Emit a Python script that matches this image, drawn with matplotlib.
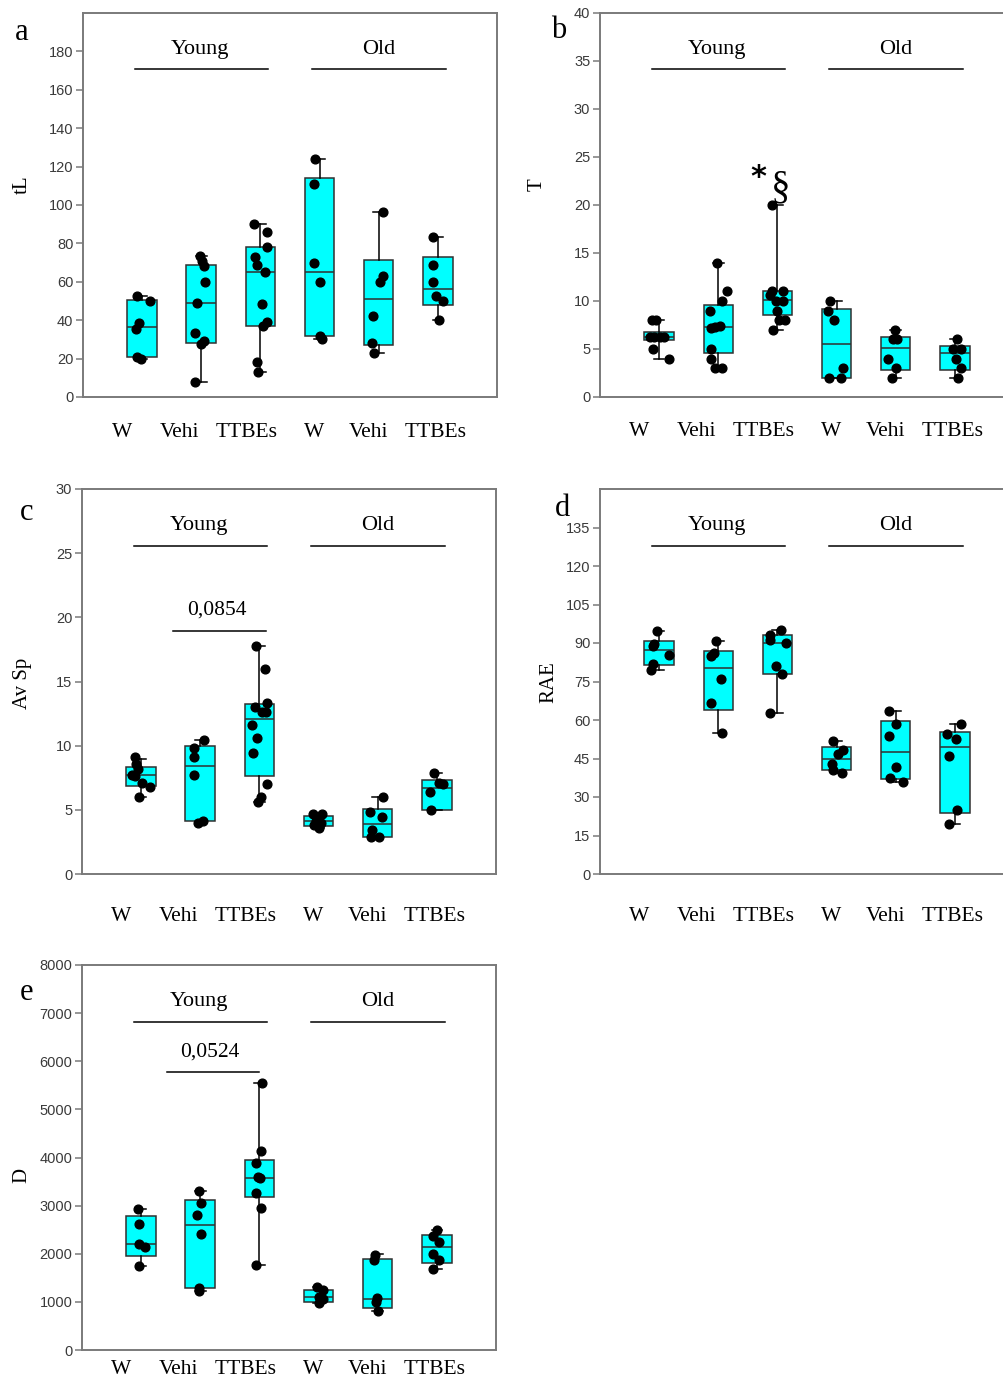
import numpy as np
import matplotlib
matplotlib.use("Agg")
import matplotlib.pyplot as plt

groups = ["W", "Vehi", "TTBEs", "W", "Vehi", "TTBEs"]
label_shift = [-0.34, -0.36, -0.24, -0.09, -0.18, -0.03]

# panel a: tL
a_q1 = [20.8, 28.3, 36.9, 31.7, 26.9, 47.7]
a_med = [36.4, 49.0, 65.0, 65.0, 51.2, 56.0]
a_q3 = [50.5, 69.0, 78.2, 114.1, 71.3, 72.8]
a_lo = [20.0, 8.0, 13.0, 30.0, 23.0, 40.0]
a_hi = [52.5, 73.3, 90.2, 124.0, 96.2, 83.2]
a_pts = [[52.5, 50, 38.3, 35.2, 21, 20],
         [73.3, 70.7, 68.1, 60, 49, 33.1, 29.1, 27.4, 8],
         [90.2, 86, 78.2, 73, 69, 65, 48.2, 39, 37, 18.2, 13],
         [124, 111, 69.9, 60, 32, 30],
         [96.2, 63, 60, 42, 28.3, 23],
         [83.2, 69, 60, 52.5, 50, 40]]
a_jit = [[-0.08, 0.14, -0.06, -0.11, -0.08, -0.02],
         [-0.03, 0.02, 0.04, 0.07, -0.08, -0.1, 0.05, 0.0, -0.1],
         [-0.11, 0.11, 0.11, -0.09, -0.05, 0.08, 0.02, 0.11, 0.05, -0.06, -0.04],
         [-0.07, -0.09, -0.09, 0.01, 0.01, 0.04],
         [0.08, 0.08, 0.02, -0.09, -0.12, -0.08],
         [-0.09, -0.09, -0.09, -0.03, 0.08, 0.02]]

# panel b: T
b_q1 = [5.93, 4.54, 8.53, 2.0, 2.8, 2.8]
b_med = [6.28, 7.32, 10.06, 5.55, 5.06, 4.54]
b_q3 = [6.8, 9.54, 11.03, 9.2, 6.28, 5.3]
b_lo = [4.0, 3.0, 7.0, 2.0, 2.0, 2.0]
b_hi = [8.0, 14.0, 20.0, 10.0, 7.0, 6.0]
b_pts = [[8, 8, 6.3, 6.3, 6.3, 6.3, 5, 4],
         [14, 11, 10, 9, 7.2, 7.3, 7.4, 5, 4, 3, 3],
         [20, 11, 11, 10.6, 10, 10, 9, 8, 8, 7],
         [10, 9, 8, 3, 2, 2],
         [7, 6, 6, 4, 3, 2],
         [6, 5, 5, 4, 3, 2]]
b_jit = [[-0.12, -0.06, -0.16, -0.08, 0.01, 0.08, -0.1, 0.16],
         [-0.03, 0.14, 0.06, -0.14, -0.13, -0.06, 0.03, -0.13, -0.13, -0.06, 0.06],
         [-0.1, -0.1, 0.1, -0.12, -0.02, 0.1, 0.0, 0.03, 0.13, -0.08],
         [-0.11, -0.14, -0.04, 0.11, -0.12, 0.08],
         [-0.02, -0.04, 0.02, -0.13, 0.01, -0.07],
         [0.04, -0.03, 0.1, 0.02, 0.11, 0.06]]

# panel c: Av Sp
c_q1 = [6.88, 4.13, 7.64, 3.77, 2.91, 4.99]
c_med = [7.71, 8.42, 12.08, 4.13, 3.9, 6.68]
c_q3 = [8.36, 9.97, 13.22, 4.55, 5.06, 7.32]
c_lo = [5.97, 3.95, 5.64, 3.56, 2.9, 5.0]
c_hi = [9.0, 10.44, 17.8, 4.73, 5.97, 7.84]
c_pts = [[9.1, 8.6, 8.2, 7.7, 7.6, 7.06, 6.8, 6.0],
         [10.44, 9.8, 9.1, 7.7, 4.0, 4.15],
         [17.8, 16, 13.3, 13, 12.6, 12.6, 11.6, 10.6, 9.4, 7.0, 6.0, 5.64],
         [4.7, 4.65, 4.13, 4.0, 3.82, 3.56],
         [6.0, 4.8, 4.47, 3.43, 2.9, 2.9],
         [7.84, 7.1, 7.0, 6.42, 4.99]]
c_jit = [[-0.1, -0.09, -0.06, -0.15, -0.1, 0.02, 0.15, -0.03],
         [0.07, -0.11, -0.1, -0.11, -0.04, 0.05],
         [-0.06, 0.09, 0.13, -0.07, 0.05, 0.11, -0.12, -0.04, -0.11, 0.13, 0.02, -0.03],
         [-0.09, 0.06, -0.04, 0.04, -0.07, 0.01],
         [0.09, -0.13, 0.08, -0.09, -0.12, 0.02],
         [-0.04, 0.03, 0.1, -0.11, -0.1]]

# panel d: RAE
d_q1 = [81.3, 64.0, 78.0, 40.6, 37.1, 23.8]
d_med = [87.1, 80.1, 90.0, 44.9, 47.5, 49.4]
d_q3 = [90.8, 87.0, 93.0, 49.4, 59.8, 55.5]
d_lo = [79.6, 54.9, 62.8, 39.3, 35.8, 19.5]
d_hi = [94.8, 90.8, 95.0, 52.0, 63.7, 58.3]
d_pts = [[94.8, 89.5, 88.8, 85.2, 82, 79.6],
         [90.8, 86, 85, 75.8, 66.7, 54.9],
         [95, 93.2, 91, 90, 80.9, 77.8, 62.8],
         [52, 48.4, 46.8, 42.9, 40.7, 39.3],
         [63.7, 58.5, 53.6, 41.6, 37.5, 35.8],
         [58.3, 54.6, 52.7, 45.9, 25, 19.5]]
d_jit = [[-0.04, -0.08, -0.11, 0.16, -0.1, -0.14],
         [-0.04, -0.08, -0.13, 0.04, -0.13, 0.06],
         [0.06, -0.12, -0.12, 0.15, -0.02, 0.07, -0.12],
         [-0.06, 0.11, 0.03, -0.08, -0.06, 0.1],
         [-0.11, 0.0, -0.11, 0.01, -0.09, 0.13],
         [0.1, -0.14, 0.02, -0.1, 0.04, -0.1]]

# panel e: D
e_q1 = [1943, 1284, 3178, 1006, 881, 1818]
e_med = [2200, 2602, 3567, 1110, 1062, 2130]
e_q3 = [2776, 3123, 3955, 1249, 1894, 2394]
e_lo = [1749, 1235, 1756, 985, 812, 1686]
e_hi = [2928, 3296, 5538, 1305, 1998, 2498]
e_pts = [[2928, 2623, 2207, 2130, 1749],
         [3296, 3053, 2810, 2408, 1284, 1235],
         [5538, 4130, 3886, 3595, 3574, 3262, 2949, 1756],
         [1305, 1249, 1110, 1055, 985],
         [1978, 1874, 1076, 1006, 812],
         [2484, 2373, 2241, 1992, 1874, 1686]]
e_jit = [[-0.06, -0.04, -0.04, 0.06, -0.03],
         [-0.02, 0.02, -0.06, 0.02, -0.03, -0.03],
         [0.05, 0.03, -0.05, -0.03, 0.01, -0.05, 0.02, -0.06],
         [-0.03, 0.07, 0.0, 0.08, 0.01],
         [-0.04, -0.06, -0.02, -0.03, 0.01],
         [0.01, -0.07, 0.04, -0.07, 0.04, -0.06]]

SERIF = "Liberation Serif"
SANS = "Liberation Sans"
GRAY = "#7a7a7a"

W, H = 1004, 1381
fig = plt.figure(figsize=(W / 100, H / 100), dpi=100)


def px_axes(left, top, bottom, width=414):
    return fig.add_axes([left / W, (H - bottom) / H, width / W, (bottom - top) / H])


def panel(ax, q1, med, q3, lo, hi, pts, jit, ymax, yticks, label_pad):
    stats = []
    for i in range(len(groups)):
        stats.append(dict(q1=q1[i], med=med[i], q3=q3[i], whislo=lo[i],
                          whishi=hi[i], fliers=[]))
    pos = np.arange(len(groups))
    ax.bxp(stats, positions=pos, widths=0.5, patch_artist=True,
           showfliers=False, capwidths=0.18,
           boxprops=dict(facecolor="#00ffff", edgecolor="#303030", lw=1.1),
           medianprops=dict(color="#303030", lw=1.1),
           whiskerprops=dict(color="black", lw=1.1),
           capprops=dict(color="black", lw=1.1))
    for i in range(len(groups)):
        ax.plot(pos[i] + np.array(jit[i]), pts[i], "o", color="black",
                ms=6.3, zorder=5)
    ax.set_xlim(-1, 6)
    ax.set_ylim(0, ymax)
    ax.set_yticks(yticks)
    ax.set_xticks(pos + np.array(label_shift))
    ax.set_xticklabels(groups, fontfamily=SERIF, fontsize=15.5)
    ax.tick_params(axis="x", length=0, pad=label_pad)
    ax.tick_params(axis="y", length=5, width=1.1, color=GRAY, pad=2,
                   labelsize=10.5, labelcolor="#3a3a3a")
    for t in ax.get_yticklabels():
        t.set_fontfamily(SANS)
    for s in ax.spines.values():
        s.set_color(GRAY)
        s.set_linewidth(1.4)
    # group headers
    tr = ax.get_xaxis_transform()
    ax.plot([-0.12, 2.12], [0.853, 0.853], color="black", lw=1.1, transform=tr, clip_on=False)
    ax.plot([2.88, 5.14], [0.853, 0.853], color="black", lw=1.1, transform=tr, clip_on=False)
    ax.text(0.97, 0.905, "Young", transform=tr, ha="center", va="center",
            fontfamily=SERIF, fontsize=16)
    ax.text(4.0, 0.905, "Old", transform=tr, ha="center", va="center",
            fontfamily=SERIF, fontsize=16)


ax_a = px_axes(83, 13, 397)
panel(ax_a, a_q1, a_med, a_q3, a_lo, a_hi, a_pts, a_jit, 200, range(0, 181, 20), 19)

ax_b = px_axes(600, 13, 397)
panel(ax_b, b_q1, b_med, b_q3, b_lo, b_hi, b_pts, b_jit, 40, range(0, 41, 5), 18)
ax_b.text(1.67, 22.9, "*", ha="center", va="center", fontfamily="DejaVu Sans",
          fontsize=22, fontweight="bold")
ax_b.text(2.05, 21.8, "§", ha="center", va="center", fontfamily=SERIF, fontsize=28)

ax_c = px_axes(82, 489, 874)
panel(ax_c, c_q1, c_med, c_q3, c_lo, c_hi, c_pts, c_jit, 30, range(0, 31, 5), 24)
ax_c.plot([0.54, 2.11], [18.9, 18.9], color="black", lw=1.1)
ax_c.text(1.28, 20.6, "0,0854", ha="center", va="center", fontfamily=SERIF, fontsize=15.5)

ax_d = px_axes(600, 489, 874)
panel(ax_d, d_q1, d_med, d_q3, d_lo, d_hi, d_pts, d_jit, 150, range(0, 136, 15), 24)

ax_e = px_axes(82, 965, 1350)
panel(ax_e, e_q1, e_med, e_q3, e_lo, e_hi, e_pts, e_jit, 8000, range(0, 8001, 1000), 7)
ax_e.plot([0.44, 2.0], [5777, 5777], color="black", lw=1.1)
ax_e.text(1.16, 6192, "0,0524", ha="center", va="center", fontfamily=SERIF, fontsize=15.5)

# panel letters
for x, y, s in [(22, 32, "a"), (559, 30, "b"), (27, 513, "c"), (563, 508, "d"), (27, 992, "e")]:
    fig.text(x / W, (H - y) / H, s, ha="center", va="center", fontfamily=SERIF, fontsize=22)

# y labels
for x, y, s in [(22, 185, "tL"), (537, 185, "T"), (22, 683, "Av Sp"),
                (549, 682, "RAE"), (22, 1175, "D")]:
    fig.text(x / W, (H - y) / H, s, ha="center", va="center", rotation=90,
             fontfamily=SERIF, fontsize=15)

fig.savefig("out.png", dpi=100, facecolor="white")
